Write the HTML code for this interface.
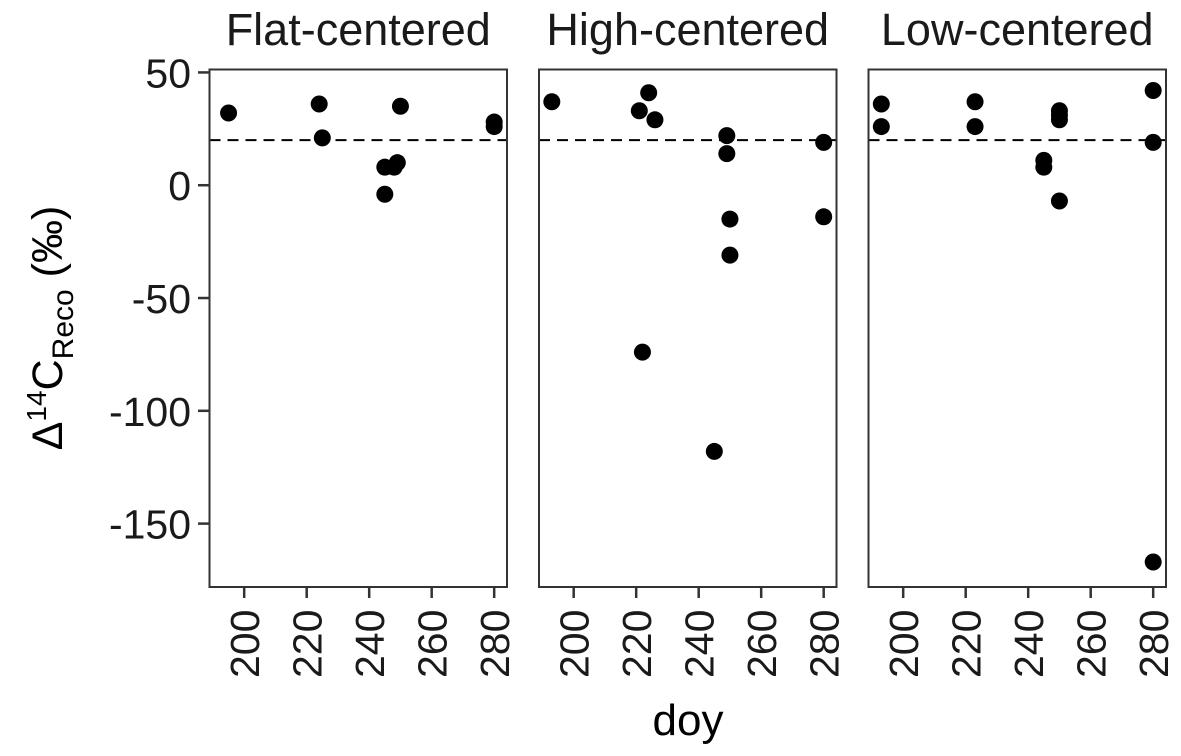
<!DOCTYPE html>
<html><head><meta charset="utf-8"><style>
body{margin:0;background:#fff;}
svg{display:block;font-family:"Liberation Sans",sans-serif;}
</style></head><body>
<svg id="chart" width="1181" height="756"></svg>
<script>
const panelNames = ["Flat-centered","High-centered","Low-centered"];
const flatDoy = [195,224,225,245,245,248,249,250,280,280];
const flatVal = [32,36,21,8,-4,8,10,35,28,26];
const highDoy = [193,221,224,226,249,249,250,250,245,222,280,280];
const highVal = [37,33,41,29,22,14,-15,-31,-118,-74,19,-14];
const lowDoy = [193,193,223,223,245,245,250,250,250,250,280,280,280];
const lowVal = [36,26,37,26,11,8,33,31,29,-7,42,19,-167];
const xTicks = [200,220,240,260,280];
const yTicks = [50,0,-50,-100,-150];
const refLine = 20;

const NS="http://www.w3.org/2000/svg";
const svg=document.getElementById('chart');
function mk(t,a,p){const e=document.createElementNS(NS,t);for(const k in a)e.setAttribute(k,a[k]);(p||svg).appendChild(e);return e;}
const plotTop=69.5,plotBot=587,pw=297.5,lefts=[209.5,539,868.5];
const xMin=188.9,xMax=284.1,yMax=51.3,yMin=-178.1;
const ys=v=>plotTop+(yMax-v)/(yMax-yMin)*(plotBot-plotTop);
const xs=(i,d)=>lefts[i]+(d-xMin)/(xMax-xMin)*pw;
const data=[[flatDoy,flatVal],[highDoy,highVal],[lowDoy,lowVal]];

for(let i=0;i<3;i++){
  const g=mk('g',{});
  
  
  const st=mk('text',{x:lefts[i]+pw/2,y:45,'text-anchor':'middle','font-size':45,fill:'#1a1a1a'},g);
  st.textContent=panelNames[i];
  
  
  const rl=mk('line',{x1:lefts[i],x2:lefts[i]+pw,y1:ys(refLine),y2:ys(refLine),stroke:'#000','stroke-width':2,'stroke-dasharray':'11,7'},g);
  
  
  const [dx,dv]=data[i];
  for(let j=0;j<dx.length;j++){
    const c=mk('circle',{cx:xs(i,dx[j]),cy:ys(dv[j]),r:8.5,fill:'#000'},g);
    
    
  }
  const fr=mk('rect',{x:lefts[i],y:plotTop,width:pw,height:plotBot-plotTop,fill:'none',stroke:'#333','stroke-width':2},g);
  
  
  for(const t of xTicks){
    const x=xs(i,t);
    mk('line',{x1:x,x2:x,y1:plotBot,y2:plotBot+11,stroke:'#333','stroke-width':2.5},g);
    const tl=mk('text',{transform:`translate(${x+15},${678}) rotate(-90)`,'font-size':41,fill:'#1a1a1a'},g);
    tl.textContent=t;
    
    
  }
}
for(const t of yTicks){
  const y=ys(t);
  mk('line',{x1:198,x2:209.5,y1:y,y2:y,stroke:'#333','stroke-width':2.5});
  const tl=mk('text',{x:191,y:y+15,'text-anchor':'end','font-size':41,fill:'#1a1a1a'});
  tl.textContent=t;
  
  
}
const xt=mk('text',{x:688,y:735,'text-anchor':'middle','font-size':44,fill:'#000'});
xt.textContent='doy';


const yt=mk('text',{transform:'translate(62,328) rotate(-90)','text-anchor':'middle','font-size':43,fill:'#000'});
yt.innerHTML='Δ<tspan dy="-16" font-size="28">14</tspan><tspan dy="16">C</tspan><tspan dy="11" font-size="30">Reco</tspan><tspan dy="-11"> (‰)</tspan>';


</script>
</body></html>
